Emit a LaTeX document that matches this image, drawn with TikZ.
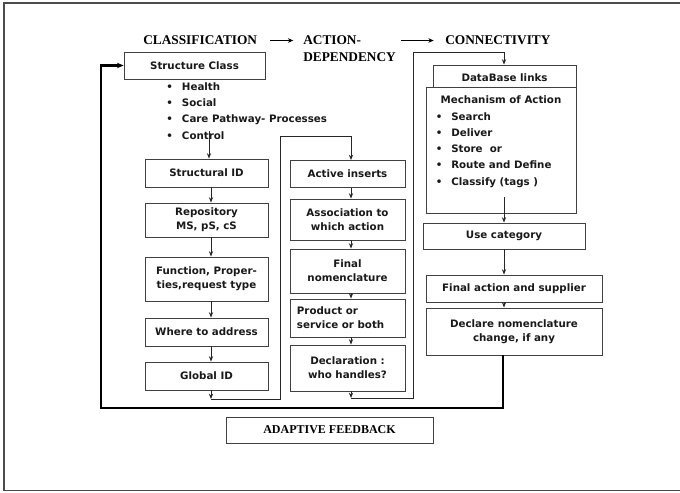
\documentclass[tikz,border=0pt]{standalone}
\usepackage{fontspec}
\setmainfont{Liberation Serif}
\newfontfamily\cf{DejaVu Sans}
\usetikzlibrary{arrows.meta,calc}
\tikzset{
 bx/.style={draw=black!75, line width=0.7pt, fill=white, align=center, inner sep=0pt, font=\cf\bfseries\fontsize{7.7}{10.7}\selectfont, text=black!90},
 sz/.style 2 args={minimum width=#1*0.75pt, minimum height=#2*0.75pt},
 ttl/.style={font=\bfseries\fontsize{10}{12}\selectfont, inner sep=0pt, anchor=west},
 itm/.style={font=\cf\bfseries\fontsize{7.7}{10.7}\selectfont, inner sep=0pt, anchor=west, text height=1.6ex, text depth=0.4ex, text=black!90},
 ar/.style={line width=0.7pt, draw=black!85, -{Stealth[length=4pt,width=3.2pt]}},
 ln/.style={line width=0.7pt, draw=black!85},
 tar/.style={line width=0.7pt, draw=black, -{Stealth[length=4pt,width=3.4pt]}},
 fb/.style={line width=1.6pt, draw=black, -{Stealth[length=5pt,width=4.2pt]}},
}
\begin{document}
\begin{tikzpicture}[x=0.75pt,y=-0.75pt]
\useasboundingbox (0,0) rectangle (680,492);
\draw[black!70, line width=0.8pt] (682,3) -- (4,3) -- (4,490.5) -- (682,490.5);

% titles
\node[ttl] (t1) at (143,40.5) {CLASSIFICATION};
\node[ttl] (t2) at (303,40.5) {ACTION-};
\node[ttl] (t2b) at (303,56.7) {DEPENDENCY};
\node[ttl] (t3) at (445,40.5) {CONNECTIVITY};
\draw[tar] ([xshift=9.5pt]t1.east) -- ([xshift=-7.3pt]t2.west);
\draw[tar] ([xshift=3.5pt]t2b.east |- t3.west) -- ([xshift=-8.5pt]t3.west);

% column 1
\node[bx,sz={141}{27}] (sc) at (194.5,65.5) {Structure Class};
\node[itm] (b1) at (166,86.7) {\textbullet};
\node[itm] (i1) at (181.7,86.7) {Health};
\node[itm] (b2) at (166,102.7) {\textbullet};
\node[itm] (i2) at (181.7,102.7) {Social};
\node[itm] (b3) at (166,119.3) {\textbullet};
\node[itm] (i3) at (181.7,119.3) {Care Pathway- Processes};
\node[itm] (b4) at (166,136) {\textbullet};
\node[itm] (i4) at (181.7,136) {Control};

\coordinate (c1x) at (211,0);
\coordinate (c2x) at (351,0);
\coordinate (c3x) at (504,0);

\node[bx,sz={123}{28}] (sid) at (206.5,173) {Structural ID};
\node[bx,sz={123}{34}] (repo) at (206.5,220) {Repository\\MS, pS, cS};
\node[bx,sz={123}{44}] (func) at (206.5,279) {Function, Proper-\\ties,request type};
\node[bx,sz={123}{28}] (where) at (206.5,332) {Where to address};
\node[bx,sz={123}{28}] (gid) at (206.5,376) {Global ID};

\coordinate (cl) at (209,131);
\draw[ar] (cl) -- (cl |- sid.north);
\draw[ar] (sid.south -| c1x) -- (repo.north -| c1x);
\draw[ar] (repo.south -| c1x) -- (func.north -| c1x);
\draw[ar] (func.south -| c1x) -- (where.north -| c1x);
\draw[ar] (where.south -| c1x) -- (gid.north -| c1x);

% column 2
\node[bx,sz={115}{27}] (act) at (347.5,174) {Active inserts};
\node[bx,sz={115}{41}] (assoc) at (347.5,219.5) {Association to\\which action};
\node[bx,sz={115}{44}] (finn) at (347.5,271) {Final\\nomenclature};
\node[bx,sz={115}{38}] (prod) at (347.5,318) {};
\node[itm, align=left, anchor=west, text height=, text depth=] (prodt) at (296.7,318) {Product or\\service or both};
\node[bx,sz={115}{46}] (decl) at (347.5,368) {Declaration :\\who handles?};

\draw[ar] (act.south -| c2x) -- (assoc.north -| c2x);
\draw[ar] (assoc.south -| c2x) -- (finn.north -| c2x);
\draw[ar] (finn.south -| c2x) -- (prod.north -| c2x);
\draw[ar] (prod.south -| c2x) -- (decl.north -| c2x);

\coordinate (g1) at (211,399);
\coordinate (k1) at (280,399);
\coordinate (k2) at (280,136);
\draw[ar] (gid.south -| c1x) -- (g1);
\draw[ar] (g1) -- (k1) -- (k2) -| (act.north -| c2x);

% column 3
\node[bx,sz={143}{25}] (db) at (504.5,77.5) {DataBase links};
\node[bx,sz={150}{126}] (mech) at (501,150) {};
\node[itm, anchor=center] (mt) at (501,100) {Mechanism of Action};
\node[itm] (m1b) at (435.5,116.7) {\textbullet};
\node[itm] (m1) at (451,116.7) {Search};
\node[itm] (m2b) at (435.5,132.7) {\textbullet};
\node[itm] (m2) at (451,132.7) {Deliver};
\node[itm] (m3b) at (435.5,149) {\textbullet};
\node[itm] (m3) at (451,149) {Store\ \ or};
\node[itm] (m4b) at (435.5,165) {\textbullet};
\node[itm] (m4) at (451,165) {Route and Define};
\node[itm] (m5b) at (435.5,182) {\textbullet};
\node[itm] (m5) at (451,182) {Classify (tags )};

\node[bx,sz={162}{26}] (use) at (504,236) {Use category};
\node[bx,sz={176}{27}] (fin) at (514,288.5) {Final action and supplier};
\node[bx,sz={176}{47}] (dec2) at (514,331.5) {Declare nomenclature\\change, if any};

\coordinate (mi) at (504,197);
\draw[ar] (mi) -- (use.north -| c3x);
\draw[ar] (use.south -| c3x) -- (fin.north -| c3x);
\draw[ar] (fin.south -| c3x) -- (dec2.north -| c3x);

\coordinate (g2) at (351,398);
\coordinate (k3) at (413,398);
\coordinate (k4) at (413,52);
\draw[ar] (decl.south -| c2x) -- (g2);
\draw[ar] (g2) -- (k3) -- (k4) -| (db.north -| c3x);

% feedback
\coordinate (f1) at (503,408);
\coordinate (f2) at (101,408);
\draw[fb] (dec2.south -| f1) -- (f1) -- (f2) |- (sc.west);

\node[draw=black!75, line width=0.7pt, sz={207}{26}, inner sep=0pt, font=\bfseries\fontsize{9}{11}\selectfont] (af) at (329.5,430) {ADAPTIVE FEEDBACK};
\end{tikzpicture}
\end{document}
